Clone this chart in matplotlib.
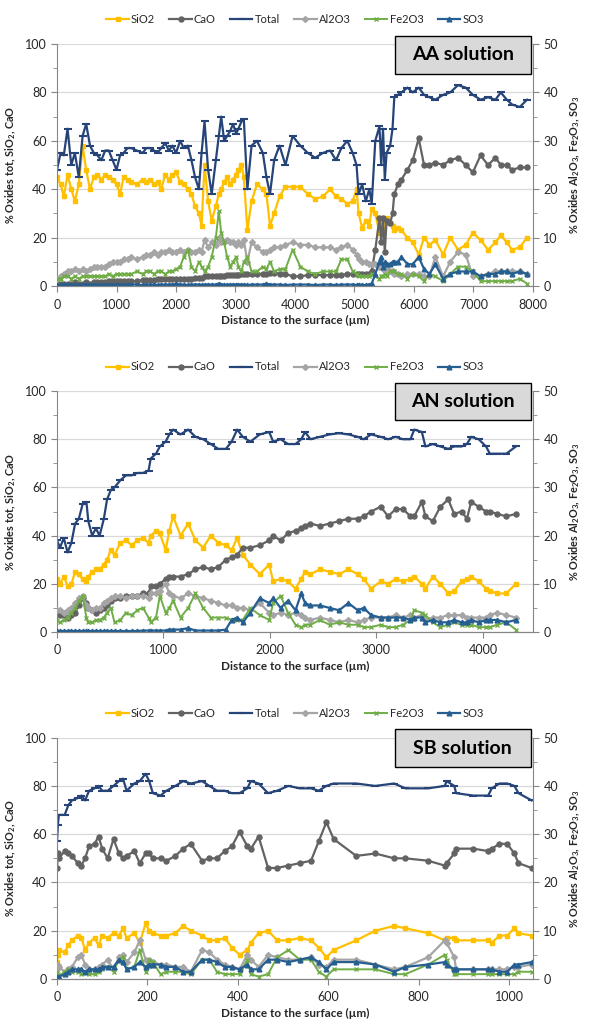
import matplotlib
matplotlib.use("Agg")
import matplotlib.pyplot as plt
from matplotlib.patches import Rectangle
from matplotlib.ticker import MultipleLocator

plt.rcParams["font.family"] = ["Lato", "DejaVu Sans"]
plt.rcParams["mathtext.fontset"] = "custom"
plt.rcParams["mathtext.rm"] = "Lato"
plt.rcParams["mathtext.bf"] = "Lato:bold"

# ---- AA solution (left axis: Total, SiO2, CaO; right axis: Al2O3, Fe2O3, SO3)
aa_x = [0, 60, 114, 177, 240, 300, 366, 430, 490, 555,
        618, 680, 745, 810, 870, 935, 1000, 1060, 1120, 1185,
        1250, 1340, 1440, 1500, 1565, 1630, 1690, 1750, 1820, 1880,
        1940, 2000, 2070, 2130, 2200, 2260, 2320, 2385, 2430, 2480,
        2540, 2600, 2670, 2720, 2760, 2810, 2860, 2910, 2960, 3010,
        3050, 3100, 3140, 3200, 3270, 3360, 3460, 3520, 3580, 3650,
        3740, 3840, 3960, 4090, 4215, 4340, 4470, 4590, 4690, 4780,
        4880, 4970, 5035, 5070, 5130, 5190, 5250, 5290, 5350, 5420,
        5450, 5480, 5510, 5540, 5600, 5640, 5670, 5730, 5790, 5890,
        5980, 6080, 6170, 6260, 6360, 6490, 6610, 6740, 6870, 6990,
        7120, 7245, 7370, 7460, 7560, 7650, 7780, 7900]
aa_total = [48, 55, 54, 65, 50, 55, 45, 62, 67, 58,
            55, 54, 52, 56, 56, 52, 48, 54, 55, 57,
            57, 56, 55, 57, 57, 56, 55, 57, 59, 56,
            58, 55, 60, 57, 58, 52, 45, 40, 55, 68,
            48, 38, 52, 62, 70, 60, 62, 64, 67, 63,
            65, 68, 69, 40, 58, 60, 55, 45, 38, 52,
            58, 50, 62, 58, 55, 53, 55, 56, 52, 57,
            60, 55, 50, 38, 42, 35, 40, 34, 60, 66,
            50, 65, 44, 55, 58, 65, 78, 79, 80, 82,
            80, 82, 79, 78, 77, 79, 80, 83, 82, 79,
            77, 78, 77, 80, 77, 75, 74, 77]
aa_sio2 = [45, 42, 37, 46, 40, 35, 42, 58, 48, 40,
           45, 46, 44, 46, 45, 44, 42, 38, 45, 44,
           43, 42, 44, 43, 44, 42, 43, 40, 46, 44,
           46, 47, 43, 42, 40, 38, 33, 30, 25, 50,
           35, 27, 33, 38, 40, 43, 45, 42, 44, 46,
           48, 50, 45, 23, 35, 42, 40, 38, 25, 30,
           37, 41, 41, 41, 38, 36, 37, 40, 37, 36,
           34, 35, 40, 30, 24, 27, 25, 32, 30, 22,
           28, 24, 26, 28, 26, 25, 23, 24, 23, 20,
           18, 13, 20, 17, 19, 13, 20, 15, 17, 22,
           19, 15, 18, 21, 18, 15, 16, 20]
aa_cao = [1, 1, 1, 1, 1, 1.5, 1, 1, 1.5, 1,
          1.5, 1.5, 1.5, 1.5, 2, 2, 2, 2, 2, 2,
          2, 2, 2.5, 2.5, 2.5, 2.5, 3, 3, 3, 3,
          3, 3, 3, 3, 3, 3, 3.5, 3.5, 3.5, 4,
          4, 4, 4, 4, 4, 4, 4.5, 4.5, 4.5, 4.5,
          4.5, 5, 5, 5, 5, 5, 5, 5, 5.5, 5.5,
          5, 5, 4, 4, 4.5, 4.5, 4.5, 4.5, 4.5, 4.5,
          5, 5, 5, 5, 5, 5, 5, 6, 15, 28,
          18, 28, 14, 27, 26, 30, 38, 42, 44, 48,
          52, 61, 50, 50, 51, 50, 52, 53, 50, 47,
          54, 50, 53, 50, 50, 48, 49, 49]
aa_al2o3 = [1.5, 2, 2.5, 3, 3, 3.5, 3, 3.5, 3, 3.5,
            4, 4, 4, 4, 4.5, 5, 5, 5, 5.5, 5.5,
            6, 5.5, 6, 6.5, 6.5, 7, 6.5, 7, 7, 7.5,
            7, 7, 7.5, 7, 7.5, 7, 7, 7.5, 7, 9.5,
            8, 9, 8.5, 10, 9, 9, 9.5, 9, 9, 8.5,
            9, 8.5, 9.5, 5, 9, 8, 7, 7, 7.5, 8,
            8, 8.5, 9, 8.5, 8.5, 8, 8, 8, 7.5, 8,
            8.5, 7.5, 6.5, 5.5, 5, 5, 4.5, 4.5, 4.5, 4,
            4, 3.5, 3.5, 3.5, 3, 3, 2.5, 2.5, 2, 2.5,
            2.5, 2.5, 2, 2, 6, 2, 5, 7, 6.5, 2,
            2, 2.5, 3, 3, 3, 3, 3, 2.5]
aa_fe2o3 = [1.5, 1.5, 2, 2, 1.5, 2, 1.5, 2, 2, 2,
            2, 2, 2, 2, 2.5, 2, 2.5, 2.5, 2.5, 2.5,
            2.5, 3, 2.5, 3, 3, 2.5, 3, 3, 2.5, 3,
            3, 3.5, 4, 6, 7.5, 4, 3, 5, 4, 3,
            4, 6, 10, 15.5, 11, 9, 6, 4, 5, 6,
            4, 3, 5, 6, 3, 3, 4, 3.5, 5, 3,
            3.5, 3.5, 7.5, 4, 3, 2.5, 3, 3, 3, 5.5,
            5.5, 3, 2.5, 2, 2, 2, 2, 2.5, 2, 1.5,
            2, 2, 2.5, 2, 3, 3, 3, 2.5, 2.5, 1.5,
            2.5, 2, 1, 2.5, 2, 1, 2.5, 4, 4, 3,
            1, 1, 1, 1, 1, 1, 1.5, 0.5]
aa_so3 = [0.3, 0.2, 0.3, 0.3, 0.2, 0.3, 0.2, 0.3, 0.3, 0.2,
          0.3, 0.3, 0.2, 0.3, 0.3, 0.2, 0.3, 0.3, 0.2, 0.3,
          0.3, 0.3, 0.2, 0.3, 0.3, 0.3, 0.2, 0.3, 0.3, 0.3,
          0.3, 0.5, 0.3, 0.3, 0.2, 0.3, 0.3, 0.3, 0.2, 0.3,
          0.3, 0.3, 0.3, 0.5, 0.3, 0.3, 0.2, 0.3, 0.3, 0.3,
          0.3, 0.3, 0.3, 0.2, 0.3, 0.3, 0.3, 0.5, 0.3, 0.3,
          0.3, 0.2, 0.3, 0.3, 0.3, 0.2, 0.3, 0.3, 0.2, 0.3,
          0.3, 0.3, 0.2, 0.3, 0.2, 0.2, 0.3, 0.5, 2.5, 5,
          6, 4, 5, 4.5, 4.5, 5, 5, 5, 6, 4.5,
          4.5, 6, 3.5, 2.5, 4.5, 1.5, 2.5, 3, 3, 3,
          2, 2.5, 2.5, 3, 3, 2.5, 3, 2.5]

# ---- AN solution
an_x = [0, 28, 64, 99, 135, 170, 205, 240, 276, 294,
        330, 365, 400, 440, 470, 506, 540, 595, 648, 700,
        754, 807, 860, 880, 930, 966, 1020, 1055, 1090, 1160,
        1232, 1300, 1373, 1444, 1515, 1586, 1640, 1692, 1745, 1816,
        1904, 1993, 2030, 2100, 2170, 2240, 2294, 2330, 2380, 2470,
        2560, 2650, 2736, 2825, 2880, 2950, 3040, 3110, 3180, 3250,
        3320, 3355, 3427, 3460, 3530, 3600, 3675, 3730, 3800, 3850,
        3890, 3960, 4030, 4065, 4135, 4220, 4310]
an_total = [38, 35, 39, 33, 37, 45, 47, 53, 54, 46,
            40, 43, 40, 47, 55, 59, 60, 63, 65, 65,
            66, 66, 67, 72, 74, 77, 79, 82, 84, 82,
            84, 81, 80, 78, 76, 76, 79, 84, 81, 79,
            82, 83, 79, 80, 78, 78, 80, 83, 80, 81,
            82, 82.5, 82, 81, 80, 82, 81, 80, 81, 80,
            80, 84, 83, 77, 78, 77, 76, 77, 77, 78,
            81, 80, 77, 74, 74, 74, 77]
an_sio2 = [22, 20, 23, 19, 20, 25, 24, 22, 21, 23,
           25, 26, 26, 28, 30, 34, 32, 37, 38, 36,
           38, 39, 37, 40, 42, 41, 34, 42, 48, 40,
           45, 38, 35, 40, 37, 36, 34, 39, 32, 28,
           24, 28, 21, 22, 21, 18, 22, 25, 24, 26,
           25, 24, 26, 24, 22, 18, 21, 20, 22, 21,
           22, 23, 20, 18, 23, 20, 16, 17, 21, 22,
           23, 21, 18, 17, 16, 16, 20]
an_cao = [8, 7, 7, 6, 7, 8, 11, 14, 12, 10,
          9, 8, 9, 10, 11, 13, 14, 14, 15, 15,
          15, 16, 16, 19, 19, 20, 22, 23, 23, 23,
          24, 26, 27, 26, 27, 30, 31, 32, 35, 35,
          36, 38, 40, 38, 41, 42, 43, 44, 45, 44,
          45, 46, 47, 47, 48, 50, 52, 48, 51, 51,
          48, 48, 54, 48, 46, 52, 55, 49, 50, 47,
          54, 52, 50, 50, 49, 48, 49]
an_al2o3 = [4.5, 4.5, 4, 4.5, 5, 6, 7, 7.5, 5.5, 5,
            4.5, 5, 5, 6, 6.5, 7, 7.5, 7.5, 7, 7.5,
            7.5, 7.5, 7, 8, 8, 8.5, 10, 8, 7.5, 7,
            8, 7.5, 7, 6.5, 6, 5.5, 5.5, 5, 5, 4.5,
            6, 4, 3.5, 4, 3.5, 4, 3.5, 3, 2.5, 3,
            2.5, 2, 2.5, 2, 2.5, 3, 3, 3, 3.5, 3,
            3.5, 3, 3.5, 2.5, 3, 3, 3.5, 3.5, 3.5, 3,
            3, 3, 3, 3.5, 4, 3.5, 3]
an_fe2o3 = [2.5, 2, 2.5, 3, 4, 5, 6.5, 7.5, 3, 2,
            2, 2.5, 2.5, 3, 4, 5, 2, 2.5, 4, 3.5,
            4.5, 5, 3, 2, 3, 7.5, 4, 5, 6.5, 3,
            5, 8, 5, 3, 3, 3, 2.5, 2.5, 2.5, 5,
            3.5, 2.5, 6, 7.5, 4, 1.5, 1, 1.5, 1.5, 2.5,
            1.5, 2, 1.5, 1.5, 1, 1, 1.5, 1, 1, 1.5,
            2.5, 4.5, 4, 3.5, 2, 1, 1.5, 2, 1.5, 1.5,
            1.5, 1, 1, 1, 1.5, 2, 0.5]
an_so3 = [0.2, 0.2, 0.2, 0.2, 0.2, 0.2, 0.2, 0.2, 0.2, 0.2,
          0.2, 0.2, 0.2, 0.2, 0.2, 0.2, 0.2, 0.2, 0.2, 0.2,
          0.2, 0.3, 0.3, 0.3, 0.3, 0.3, 0.3, 0.5, 0.5, 0.5,
          0.8, 0.3, 0.3, 0.3, 0.3, 0.5, 2.5, 3, 2, 4,
          7, 6, 7, 5, 6.5, 4.5, 8, 6, 5.5, 5.5,
          5, 4.5, 6, 4.5, 5, 3.5, 3, 3, 3, 3,
          2.5, 3, 3, 2, 2.5, 2, 2, 2.5, 2, 2,
          2.5, 2, 2.5, 2.5, 2.5, 2, 2.5]

# ---- SB solution
sb_x = [0, 2, 4, 17, 25, 33, 46, 54, 62, 71,
        83, 92, 100, 112, 125, 137, 146, 154, 171, 183,
        196, 204, 212, 229, 242, 262, 279, 296, 321, 337,
        354, 371, 387, 404, 421, 429, 446, 467, 487, 512,
        537, 562, 579, 596, 612, 662, 704, 746, 771, 821,
        858, 862, 879, 883, 921, 954, 962, 979, 996, 1012,
        1021, 1050]
sb_total = [57, 64, 68, 68, 72, 74, 75, 76, 74, 78,
            79, 80, 78, 78, 80, 82, 83, 78, 81, 82,
            85, 82, 77, 76, 78, 80, 82, 81, 82, 80,
            78, 78, 77, 77, 79, 82, 81, 77, 78, 80,
            79, 79, 78, 80, 81, 81, 80, 81, 79, 79,
            80, 82, 80, 77, 76, 76, 79, 81, 81, 80,
            77, 74]
sb_sio2 = [7, 10, 12, 11, 14, 16, 18, 17, 12, 15,
           17, 14, 18, 17, 19, 18, 21, 17, 19, 15,
           23, 20, 19, 18, 18, 19, 22, 20, 18, 16,
           16, 17, 13, 10, 12, 15, 19, 20, 16, 16,
           17, 16, 13, 9, 12, 16, 20, 22, 21, 19,
           16, 17, 17, 16, 16, 16, 15, 18, 18, 21,
           19, 18]
sb_cao = [46, 52, 50, 53, 52, 51, 48, 47, 50, 55,
          56, 59, 54, 50, 58, 52, 50, 51, 53, 48,
          52, 52, 50, 50, 49, 51, 54, 56, 49, 50,
          50, 53, 55, 61, 55, 54, 59, 46, 46, 47,
          48, 49, 57, 65, 58, 51, 52, 50, 50, 49,
          47, 48, 52, 54, 54, 53, 54, 56, 56, 52,
          48, 46]
sb_al2o3 = [2, 3, 2.5, 1.5, 2, 2.5, 4.5, 5, 3, 2,
            2, 2.5, 3, 4, 2, 4.5, 5, 3.5, 5.5, 8,
            4, 4, 3.5, 3, 3, 2.5, 2.5, 1.5, 6, 5.5,
            4, 3, 2.5, 2, 5, 4, 2.5, 5, 4.5, 4,
            4, 4.5, 3, 2.5, 4, 4, 3, 2, 2.5, 4.5,
            8, 7.5, 4.5, 2, 2, 2, 2, 2, 2, 2.5,
            2.5, 3]
sb_fe2o3 = [1.5, 1, 0.5, 1.5, 2, 1.5, 1.5, 1, 1.5, 1,
            1, 1.5, 2, 2.5, 1.5, 4, 4.5, 2, 2.5, 6,
            1.5, 4, 3.5, 1, 1.5, 1.5, 1.5, 1, 4, 4,
            1.5, 1, 1, 1, 4, 1, 0.5, 1, 4.5, 6,
            4, 4, 1.5, 0.5, 2, 2, 2, 1, 1, 3,
            5, 4, 1, 1, 1, 1, 1, 1, 1, 1,
            1.5, 1.5]
sb_so3 = [0.5, 0, 0.5, 1, 1.5, 2, 2, 2, 1.5, 2,
          2, 2, 2.5, 2.5, 2.5, 4, 3.5, 2, 2.5, 3.5,
          2.5, 3, 3, 3, 2.5, 2.5, 1.5, 1.5, 4, 4,
          3.5, 2.5, 2.5, 2, 3, 2, 2, 4, 4, 3.5,
          4, 4.5, 3.5, 2, 3.5, 3.5, 3, 1.5, 2.5, 3,
          3.5, 3, 2, 2, 2, 2, 2, 1.5, 1.5, 3,
          3, 3.5]

GOLD = "#FFC000"
DGRAY = "#636363"
NAVY = "#264478"
LGRAY = "#A5A5A5"
GREEN = "#70AD47"
BLUE = "#255E91"
AXIS = "#868686"
TEXT = "#262626"

LEFT_LABEL = r"% Oxides tot, SiO$_\mathbf{2}$, CaO"
RIGHT_LABEL = (r"% Oxides Al$_\mathbf{2}$O$_\mathbf{3}$, Fe$_\mathbf{2}$O$_\mathbf{3}$, "
               r"SO$_\mathbf{3}$")


def draw_panel(fig, rect, x, total, sio2, cao, al2o3, fe2o3, so3, xmax, xstep, name):
    ax = fig.add_axes(rect)
    ax2 = ax.twinx()

    h = []
    h += ax.plot(x, sio2, color=GOLD, lw=1.6, marker="s", ms=3, label="SiO2")
    h += ax.plot(x, cao, color=DGRAY, lw=1.6, marker="o", ms=3.6, label="CaO")
    h += ax.plot(x, total, color=NAVY, lw=1.6, marker="_", ms=5.5, mew=1.5, label="Total")
    h += ax2.plot(x, al2o3, color=LGRAY, lw=1.6, marker="D", ms=3, label="Al2O3")
    h += ax2.plot(x, fe2o3, color=GREEN, lw=1.4, marker="x", ms=3.2, mew=1.0, label="Fe2O3")
    h += ax2.plot(x, so3, color=BLUE, lw=1.6, marker="^", ms=3.4, label="SO3")

    ax.set_xlim(0, xmax)
    ax.set_ylim(0, 100)
    ax2.set_ylim(0, 50)
    ax.xaxis.set_major_locator(MultipleLocator(xstep))
    ax.yaxis.set_major_locator(MultipleLocator(20))
    ax.yaxis.set_minor_locator(MultipleLocator(10))
    ax2.yaxis.set_major_locator(MultipleLocator(10))
    ax2.yaxis.set_minor_locator(MultipleLocator(5))

    ax.grid(axis="y", color="#D9D9D9", lw=0.9)
    ax.set_axisbelow(True)
    for a in (ax, ax2):
        a.spines["top"].set_visible(False)
        for s in ("left", "right", "bottom"):
            a.spines[s].set_color(AXIS)
        a.tick_params(which="both", direction="out", color=AXIS, labelsize=9,
                      labelcolor=TEXT)
        a.tick_params(which="major", length=4)
        a.tick_params(which="minor", length=3)
    ax.tick_params(axis="x", pad=5)
    ax.spines["right"].set_visible(False)
    ax2.spines["left"].set_visible(False)

    ax.set_xlabel("Distance to the surface (µm)", fontsize=8.5, fontweight="bold",
                  color=TEXT, labelpad=3)
    ax.set_ylabel(LEFT_LABEL, fontsize=7.8, fontweight="bold", color=TEXT, labelpad=5)
    ax2.set_ylabel(RIGHT_LABEL, fontsize=7.8, fontweight="bold", color=TEXT,
                   rotation=90, labelpad=7)

    ax.legend(handles=h, loc="center", bbox_to_anchor=(0.5, 1.1), ncol=6,
              frameon=False, fontsize=8, handlelength=2.0, handletextpad=0.2,
              columnspacing=1.3, labelcolor=TEXT)

    # solution name in a grey box sitting over the top-right corner
    ax2.add_patch(Rectangle((0.71, 0.878), 0.285, 0.157, transform=ax2.transAxes,
                            facecolor="#D9D9D9", edgecolor="black", lw=1.0,
                            clip_on=False, zorder=5))
    ax2.text(0.8525, 0.956, name, transform=ax2.transAxes, ha="center", va="center",
             fontsize=14, fontweight="bold", color="black", zorder=6)


fig = plt.figure(figsize=(5.89, 10.34), dpi=100)

draw_panel(fig, [0.0968, 0.7234, 0.808, 0.234], aa_x, aa_total, aa_sio2, aa_cao,
           aa_al2o3, aa_fe2o3, aa_so3, 8000, 1000, "AA solution")
draw_panel(fig, [0.0968, 0.3888, 0.808, 0.233], an_x, an_total, an_sio2, an_cao,
           an_al2o3, an_fe2o3, an_so3, 4470, 1000, "AN solution")
draw_panel(fig, [0.0968, 0.0532, 0.808, 0.2334], sb_x, sb_total, sb_sio2, sb_cao,
           sb_al2o3, sb_fe2o3, sb_so3, 1053, 200, "SB solution")

fig.savefig("out.png", dpi=100)
